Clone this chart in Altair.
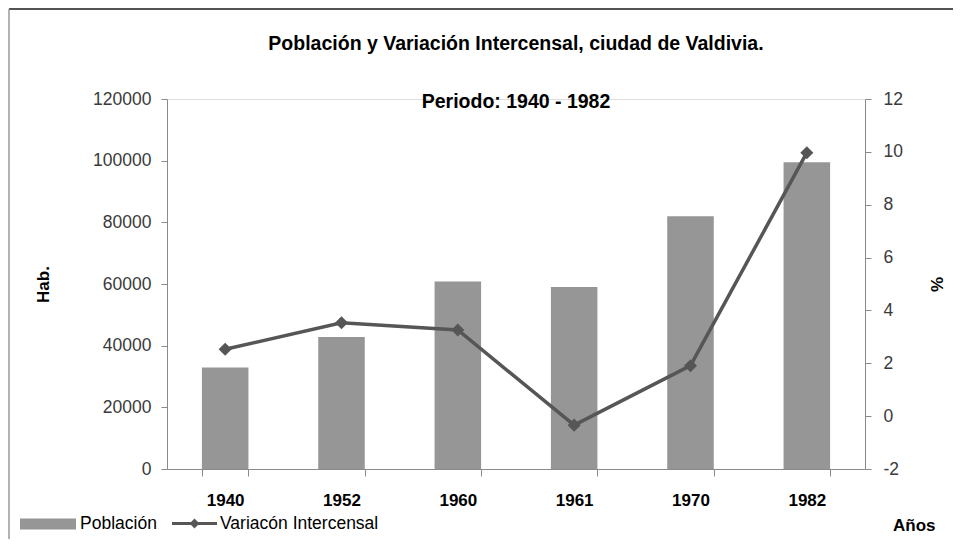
import altair as alt
import pandas as pd

years = ["1940", "1952", "1960", "1961", "1970", "1982"]
poblacion = [32900, 42800, 60800, 59000, 82000, 99500]
variacion = [2.53, 3.53, 3.26, -0.34, 1.91, 9.97]

FONT = "Liberation Sans, Arial, sans-serif"
BAR_C = "#969696"
LINE_C = "#565656"
AXIS_C = "#8a8a8a"

df = pd.DataFrame({
    "year": years,
    "Población": poblacion,
    "var": variacion,
    "s_bar": ["Población"] * len(years),
    "s_line": ["Variacón Intercensal"] * len(years),
})

x_axis = alt.Axis(
    title="Años", titleFont=FONT, titleFontSize=17, titleFontWeight="bold",
    titleColor="black", titleX=768, titleY=61, titleAlign="right",
    titleBaseline="alphabetic", titleAngle=0,
    labelFont=FONT, labelFontSize=17, labelFontWeight="bold", labelColor="black",
    labelAngle=0, labelPadding=16, tickSize=7, tickBand="extent",
    domainColor=AXIS_C, tickColor=AXIS_C, grid=False,
)
x_scale = alt.Scale(paddingInner=0.6, paddingOuter=0.3)

bars = alt.Chart(df).mark_bar(color=BAR_C).encode(
    x=alt.X("year:N", sort=years, scale=x_scale, axis=x_axis),
    y=alt.Y("Población:Q",
            scale=alt.Scale(domain=[0, 120000], nice=False),
            axis=alt.Axis(
                title="Hab.", titleFont=FONT, titleFontSize=17, titleFontWeight="bold",
                titleColor="black", titleAngle=270, titlePadding=40,
                values=[0, 20000, 40000, 60000, 80000, 100000, 120000],
                format="d", labelFont=FONT, labelFontSize=17.5, labelColor="#3a3a3a",
                labelPadding=10, tickSize=6, domainColor=AXIS_C, tickColor=AXIS_C,
                grid=False,
            )),
    color=alt.Color("s_bar:N", scale=alt.Scale(range=[BAR_C]),
                    legend=alt.Legend(
                        title=None, orient="none", legendX=-147, legendY=397,
                        symbolType="M-1,-0.2H1V0.2H-1Z", symbolSize=3136,
                        symbolStrokeWidth=0, labelFont=FONT, labelFontSize=17.5,
                        labelColor="black", labelOffset=4, padding=0,
                    )),
)

line = alt.Chart(df).mark_line(color=LINE_C, strokeWidth=3.5).encode(
    x=alt.X("year:N", sort=years, scale=x_scale, axis=x_axis, bandPosition=0.5),
    y=alt.Y("var:Q",
            scale=alt.Scale(domain=[-2, 12], nice=False, zero=False),
            axis=alt.Axis(
                orient="right", title="%", titleFont=FONT, titleFontSize=17,
                titleFontWeight="bold", titleColor="black", titleAngle=270,
                titlePadding=44, values=[-2, 0, 2, 4, 6, 8, 10, 12],
                labelExpr="datum.value + ''",
                labelFont=FONT, labelFontSize=17.5, labelColor="#3a3a3a",
                labelPadding=12, tickSize=6, domainColor=AXIS_C, tickColor=AXIS_C,
                grid=False,
            )),
)

pts = alt.Chart(df).mark_point(shape="diamond", filled=True, size=170, opacity=1).encode(
    x=alt.X("year:N", sort=years, scale=x_scale, axis=x_axis, bandPosition=0.5),
    y=alt.Y("var:Q"),
    color=alt.Color("s_line:N", scale=alt.Scale(range=[LINE_C]),
                    legend=alt.Legend(
                        title=None, orient="none", legendX=5, legendY=402,
                        symbolType="M-1,-0.07H1V0.07H-1Z M0,-0.22L0.22,0L0,0.22L-0.22,0Z",
                        symbolSize=2025, symbolStrokeWidth=0,
                        labelFont=FONT, labelFontSize=17.5, labelColor="black",
                        labelOffset=3, padding=0,
                    )),
)

border_top = alt.Chart(alt.Data(values=[{}])).mark_rule(color="#1a1a1a", strokeWidth=1.5).encode(
    x=alt.value(-158), x2=alt.value(820), y=alt.value(-90))
border_left = alt.Chart(alt.Data(values=[{}])).mark_rule(color="#999999", strokeWidth=1.5).encode(
    x=alt.value(-158), y=alt.value(-90), y2=alt.value(470))

right = alt.layer(line, pts)

chart = alt.layer(bars, right, border_top, border_left).resolve_scale(
    y="independent", color="independent"
).properties(
    width=698, height=370,
    autosize=alt.AutoSizeParams(type="none"),
    padding={"left": 159, "top": 91, "right": 88, "bottom": 70},
    title=alt.TitleParams(
        text="Población y Variación Intercensal, ciudad de Valdivia.",
        subtitle="Periodo: 1940 - 1982",
        font=FONT, fontSize=19.5, fontWeight="bold", color="black",
        subtitleFont=FONT, subtitleFontSize=19.5, subtitleFontWeight="bold",
        subtitleColor="black", anchor="middle", offset=-104, subtitlePadding=38,
    ),
).configure_view(stroke=None).configure(background="white")

chart.save("out.html", embed_options={"renderer": "svg", "actions": False})
